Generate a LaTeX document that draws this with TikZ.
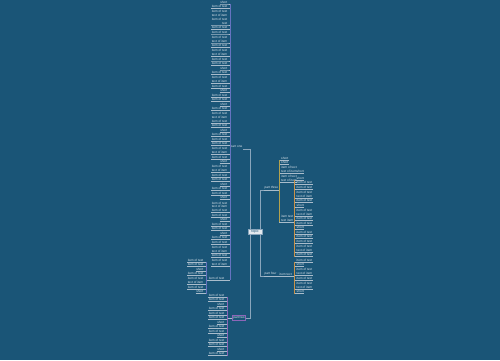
\documentclass[tikz,border=0pt]{standalone}
\usepackage{fontspec}
\setmainfont{Liberation Sans}
\usetikzlibrary{positioning}
\definecolor{bg}{HTML}{1A5577}
\definecolor{txt}{HTML}{DCE5EC}
\definecolor{ulc}{HTML}{A9BCCB}
\definecolor{rootfill}{HTML}{E4EAEF}
\definecolor{lblue}{HTML}{6673C0}
\definecolor{lpurple}{HTML}{8C66B8}
\definecolor{olive}{HTML}{B3A24E}
\definecolor{orng}{HTML}{C9924A}
\definecolor{grey}{HTML}{8AA6BC}
\newcommand\lblS{short}
\newcommand\lblM{item of text}
\newcommand\lblN{item text}
\newcommand\lblB{item of text\\text of item}
\newcommand\lblC{item of text\\text of item\\item of text}
\newcommand\lblD{item of text\\text of item\\item of text\\text}

\begin{document}
\begin{tikzpicture}[
  x=0.02cm, y=-0.02cm,
  lt/.style={anchor=south east, align=right, font=\fontsize{1.8}{2.2}\selectfont, text=txt, inner sep=0.2pt},
  rt/.style={lt, anchor=south west, align=left},
  trunk/.style={draw=#1, line width=0.45pt},
  ulk/.style={draw=ulc, line width=0.3pt},
  hub/.style={draw=grey, line width=0.4pt},
]
  \fill[bg] (0,0) rectangle (500,360);

  % centre and main branches
  \node[draw=grey, fill=rootfill, line width=0.4pt, font=\fontsize{2}{2.4}\selectfont, text=bg,
        minimum width=0.28cm, minimum height=0.1cm, inner sep=0.4pt] (root) at (255,231.5) {topic};
  \node[lt, anchor=south west] (L1) at (230,149) {part one};
  \node[draw=lpurple, line width=0.4pt, font=\fontsize{1.8}{2.2}\selectfont, text=txt, inner sep=0.6pt] (L2) at (239,318) {part two};
  \node[rt] (R1) at (264,190) {part three};
  \node[rt] (R2) at (264,276) {part four};

  \coordinate (hl) at (250,0);
  \coordinate (hr) at (260,0);
  \draw[hub] (root.north -| hl) |- (L1.south east);
  \draw[hub] (root.south -| hl) |- (L2.east);
  \draw[hub] (root.north -| hr) |- (R1.south west);
  \draw[hub] (root.south -| hr) |- (R2.south west);

  % left: part one
  \coordinate (t1) at (230,0);
  \foreach \y/\k [count=\i] in {4/S,8.5/M,25/D,29.5/M,34/M,43/B,47.5/M,56.5/B,61/M,65.5/M,70/S,74.5/M,83.5/B,88/M,92.5/S,97/M,101.5/M,106/S,110.5/M,123/C,127.5/M,132/S,136.5/M,141/M,145.5/M,154.5/B,159/M,163.5/S,172.5/B,177/M,181.5/M,186/S,190.5/M,195/M,199.5/S,212.5/C,217/M,221.5/S,226/M,230.5/M,235/S,239.5/M,244/M,253/B,257.5/M,266.5/B}
  {
    \node[lt] (la\i) at (228,\y) {\csname lbl\k\endcsname};
    \draw[ulk] (la\i.south west) -- (la\i.south east) -- (la\i.south east -| t1);
  }
  \node[lt] (N) at (225,280) {\lblM};
  \draw[ulk] (N.south west) -- (N.south east) -- (N.south east -| t1);
  \draw[trunk=lblue] (la1.south east -| t1) -- (N.south east -| t1);

  \coordinate (t3) at (206,0);
  \draw[ulk] (N.south west) -- (N.south west -| t3);
  \foreach \y/\k [count=\i] in {262/M,266.5/M,271/S,275.5/M,284.5/B,289/M,293.5/S}
  {
    \node[lt] (na\i) at (204,\y) {\csname lbl\k\endcsname};
    \draw[ulk] (na\i.south west) -- (na\i.south east) -- (na\i.south east -| t3);
  }
  \draw[trunk=lblue] (na1.south east -| t3) -- (na7.south east -| t3);

  % left: part two
  \coordinate (t2) at (227,0);
  \draw[ulk] (L2.west) -- (L2.west -| t2);
  \foreach \y/\k [count=\i] in {297/M,301.5/M,306/S,310.5/M,315/M,319.5/M,324/S,328.5/M,333/M,337.5/S,342/M,346.5/M,351/S,355.5/M}
  {
    \node[lt] (pa\i) at (225,\y) {\csname lbl\k\endcsname};
    \draw[ulk] (pa\i.south west) -- (pa\i.south east) -- (pa\i.south east -| t2);
  }
  \draw[trunk=lpurple] (pa1.south east -| t2) -- (pa14.south east -| t2);

  % right: part three
  \coordinate (t4) at (279,0);
  \draw[ulk] (R1.south west) -- (R1.south east) -- (R1.south east -| t4);
  \foreach \y/\k [count=\i] in {160/S,164.5/S,173.5/B,182.5/B}
  {
    \node[rt] (ra\i) at (280.5,\y) {\csname lbl\k\endcsname};
    \draw[ulk] (ra\i.south west -| t4) -- (ra\i.south west) -- (ra\i.south east);
  }
  \node[rt] (rc) at (296,173.5) {\lblS};
  \draw[ulk] (ra3.south east) -- (rc.south west) -- (rc.south east);
  \node[rt] (R1e) at (280.5,222) {item text\\text item};
  \draw[ulk] (R1e.south west -| t4) -- (R1e.south west) -- (R1e.south east);
  \draw[trunk=olive] (ra1.south west -| t4) -- (R1e.south west -| t4);

  \coordinate (t5) at (294,0);
  \draw[ulk] (R1e.south east) -- (R1e.south east -| t5);
  \foreach \y/\k [count=\i] in {180/S,184.5/M,189/M,198/B,202.5/M,207/S,216/B,220.5/M,225/M,229.5/S,234/M,238.5/M,243/M,252/B,256.5/M}
  {
    \node[rt] (ea\i) at (296,\y) {\csname lbl\k\endcsname};
    \draw[ulk] (ea\i.south west -| t5) -- (ea\i.south west) -- (ea\i.south east);
  }
  \draw[trunk=orng] (ea1.south west -| t5) -- (ea15.south west -| t5);

  % right: part four
  \draw[ulk] (R2.south west) -- (R2.south east);
  \node[rt] (C) at (279,276) {\lblN};
  \draw[ulk] (R2.south east) -- (C.south west) -- (C.south east) -- (C.south east -| t5);
  \foreach \y/\k [count=\i] in {262/M,266.5/S,275.5/B,280/M,289/B,293.5/S}
  {
    \node[rt] (ca\i) at (296,\y) {\csname lbl\k\endcsname};
    \draw[ulk] (ca\i.south west -| t5) -- (ca\i.south west) -- (ca\i.south east);
  }
  \draw[trunk=orng] (ca1.south west -| t5) -- (ca6.south west -| t5);
\end{tikzpicture}
\end{document}
